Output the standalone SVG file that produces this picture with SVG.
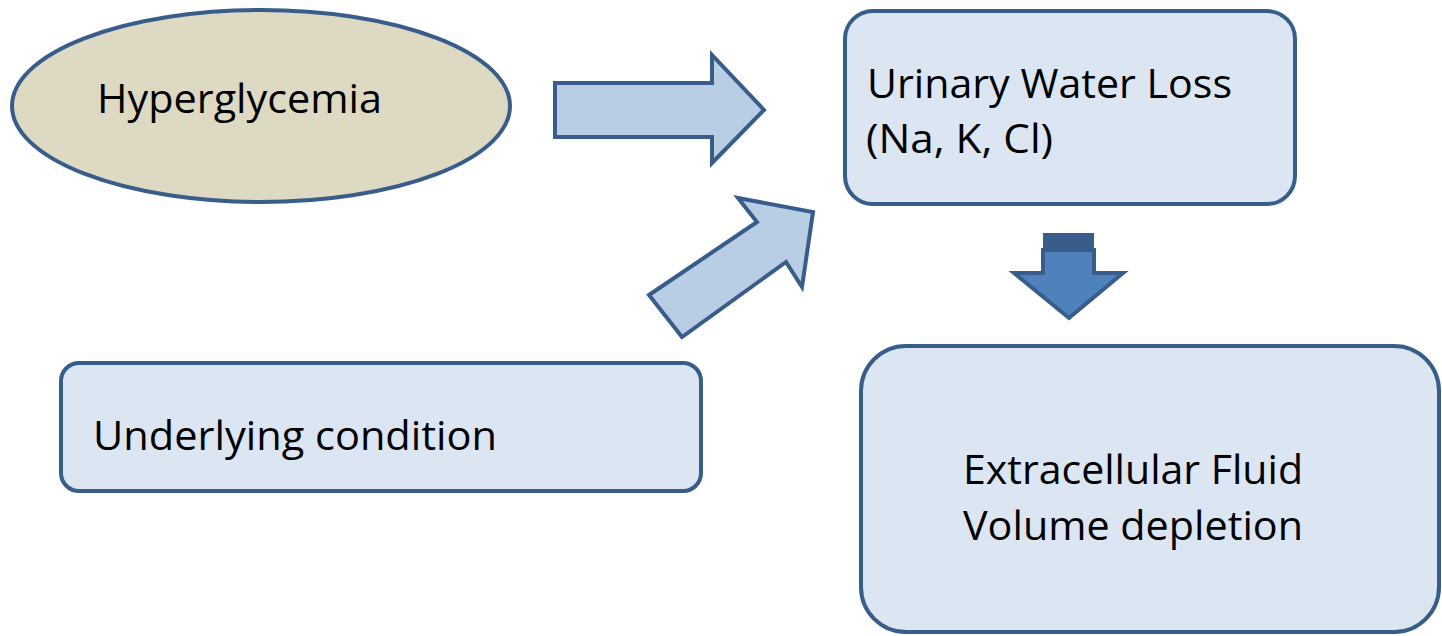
<svg xmlns="http://www.w3.org/2000/svg" width="1442" height="636" viewBox="0 0 1442 636">
<style>
.box{fill:#DCE6F2;stroke:#385D8A;stroke-width:4}
.arr{fill:#B9CDE5;stroke:#385D8A;stroke-width:4;stroke-linejoin:miter}
.t{font-family:"Open Sans","Liberation Sans",sans-serif;font-size:40px;fill:#000}
</style>
<rect width="1442" height="636" fill="#fff"/>
<g id="connectors">
<polygon class="arr" points="555,83 712,83 712,55 764,110 712,163 712,137 555,137"/>
<polygon class="arr" points="649,295 757,222 738,198 813,212 802,287 786,262 682,337"/>
<g id="down-arrow">
<polygon points="1043,250 1094,250 1094,273 1123,273 1069,318 1014,273 1043,273" fill="#4F81BD" stroke="#385D8A" stroke-width="4" stroke-linejoin="miter"/>
<rect x="1043" y="233" width="51" height="17" fill="#385D8A"/>
</g>
</g>
<g id="hyperglycemia">
<ellipse cx="261" cy="106" rx="249" ry="96" fill="#DDD9C3" stroke="#385D8A" stroke-width="4"/>
<text class="t" x="97" y="113" textLength="285" lengthAdjust="spacingAndGlyphs">Hyperglycemia</text>
</g>
<g id="urinary">
<rect class="box" x="845" y="11" width="450" height="193" rx="28"/>
<text class="t" x="867" y="98" textLength="365" lengthAdjust="spacingAndGlyphs">Urinary Water Loss</text>
<text class="t" x="866" y="153" textLength="187" lengthAdjust="spacingAndGlyphs">(Na, K, Cl)</text>
</g>
<g id="underlying">
<rect class="box" x="61" y="363" width="640" height="128" rx="18"/>
<text class="t" x="93" y="450" textLength="404" lengthAdjust="spacingAndGlyphs">Underlying condition</text>
</g>
<g id="extracellular">
<rect class="box" x="861" y="346" width="578" height="286" rx="45"/>
<text class="t" x="963" y="484" textLength="340" lengthAdjust="spacingAndGlyphs">Extracellular Fluid</text>
<text class="t" x="963" y="540" textLength="340" lengthAdjust="spacingAndGlyphs">Volume depletion</text>
</g>
</svg>
